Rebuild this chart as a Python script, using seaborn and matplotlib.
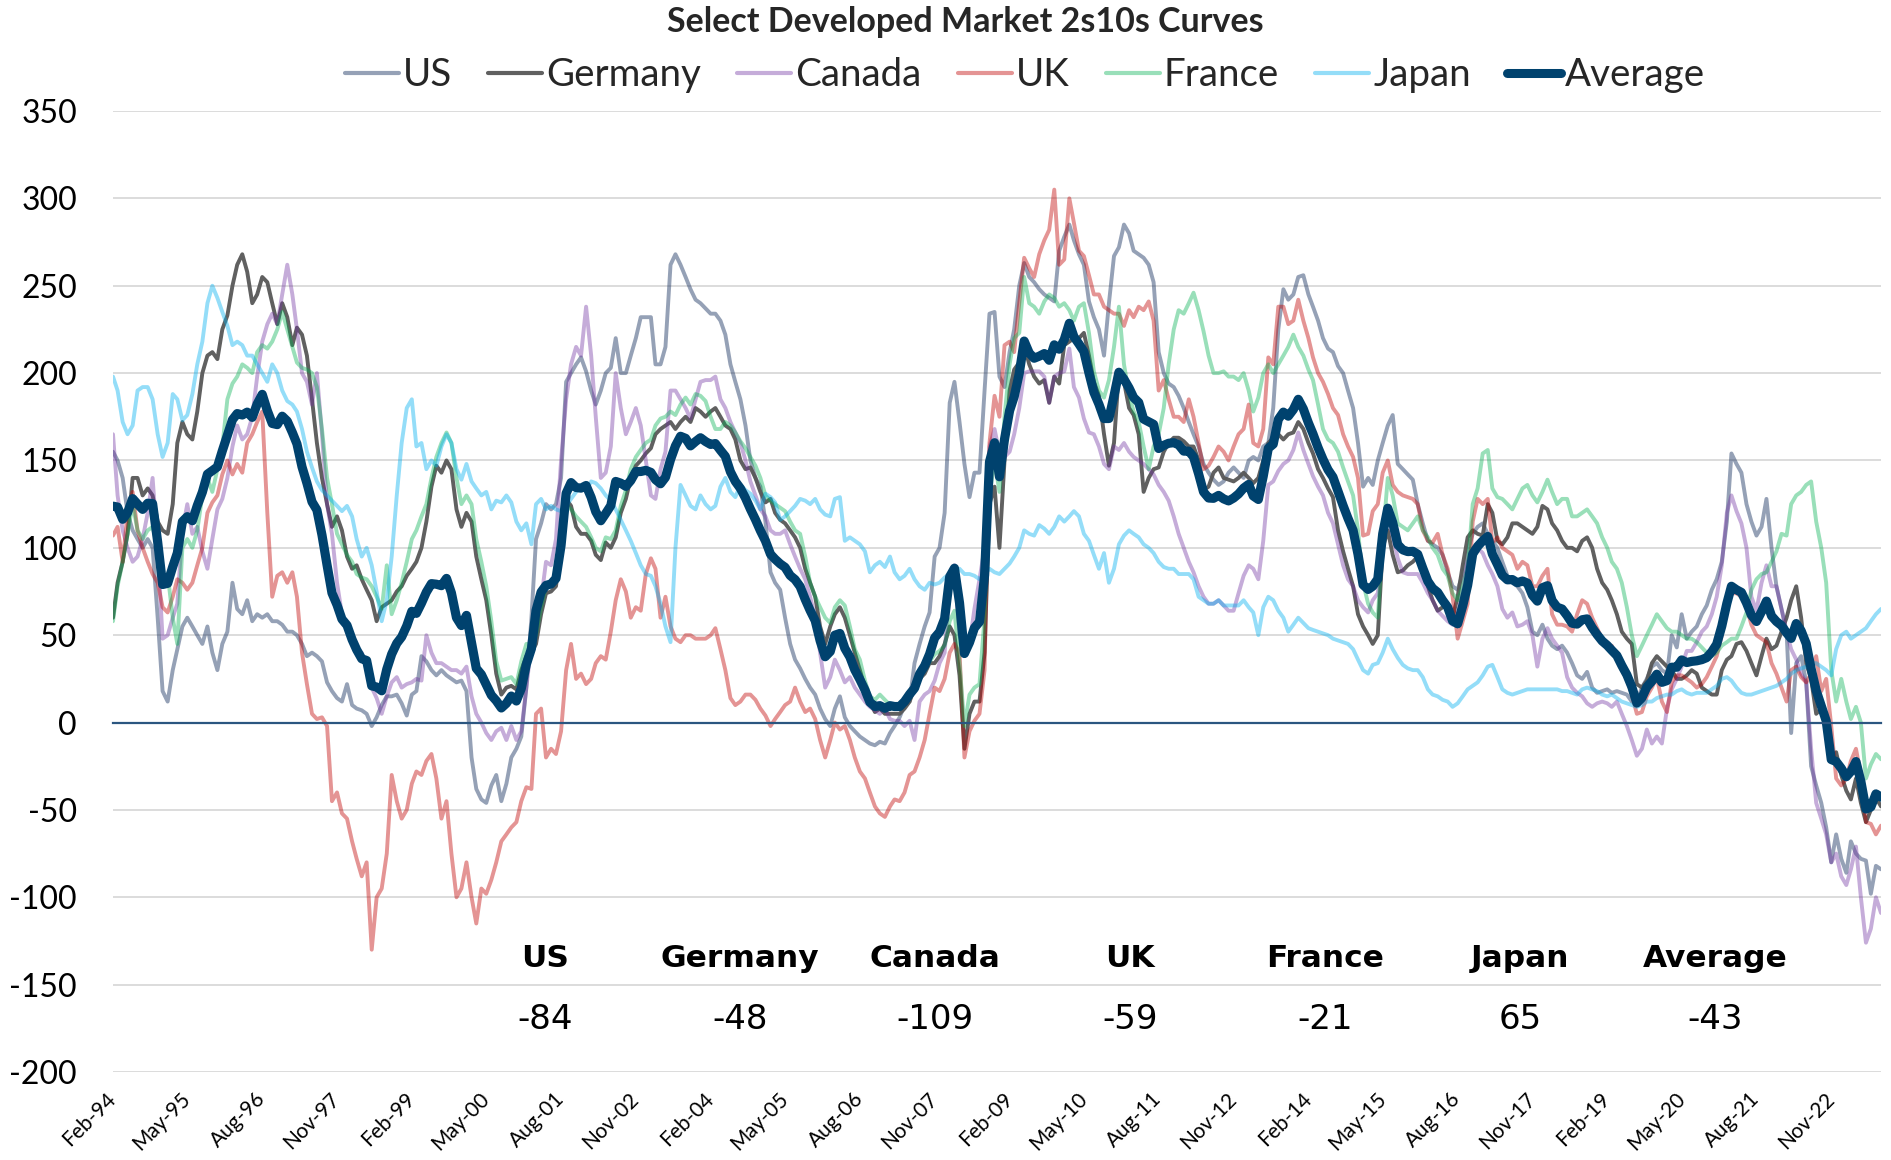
import numpy as np
import pandas as pd
import matplotlib
matplotlib.use("Agg")
import matplotlib.pyplot as plt
import matplotlib.transforms as mtransforms
from matplotlib.lines import Line2D
import seaborn as sns

# Monthly 2s10s spreads (bp), Feb-1994 .. Sep-2023
dates = pd.date_range("1994-02-01", periods=356, freq="MS")

us = [155, 150, 140, 120, 110, 105, 100, 105, 100, 60,
      18, 12, 30, 42, 55, 60, 55, 50, 45, 55,
      40, 30, 45, 52, 80, 65, 62, 70, 58, 62,
      60, 62, 58, 58, 56, 52, 52, 50, 45, 38,
      40, 38, 35, 23, 18, 14, 12, 22, 10, 8,
      7, 5, -2, 3, 10, 15, 15, 16, 11, 4,
      16, 18, 38, 35, 30, 27, 30, 27, 25, 23,
      24, 18, -20, -38, -44, -46, -36, -30, -45, -35,
      -20, -15, -8, 20, 60, 105, 114, 125, 122, 125,
      140, 195, 200, 205, 209, 201, 190, 182, 190, 200,
      203, 220, 200, 200, 210, 220, 232, 232, 232, 205,
      205, 215, 262, 268, 262, 255, 248, 242, 240, 237,
      234, 234, 230, 222, 205, 195, 185, 170, 150, 140,
      135, 115, 86, 80, 76, 60, 45, 36, 31, 25,
      20, 16, 8, 2, -2, 8, 15, 3, -2, -5,
      -8, -10, -12, -13, -11, -12, -6, -2, 3, 10,
      12, 34, 45, 55, 63, 95, 100, 120, 183, 195,
      172, 148, 129, 143, 143, 190, 234, 235, 198, 192,
      212, 225, 250, 263, 255, 252, 248, 245, 243, 241,
      270, 278, 285, 276, 268, 262, 241, 232, 225, 210,
      240, 267, 272, 285, 280, 270, 268, 266, 262, 252,
      212, 200, 194, 192, 187, 180, 172, 165, 158, 148,
      143, 139, 136, 138, 143, 146, 143, 140, 150, 152,
      150, 158, 160, 180, 225, 248, 242, 245, 255, 256,
      245, 238, 230, 220, 214, 212, 204, 200, 190, 180,
      160, 135, 140, 136, 150, 160, 170, 176, 148, 145,
      142, 139, 125, 114, 104, 102, 100, 96, 86, 78,
      76, 85, 98, 108, 112, 114, 108, 104, 100, 92,
      84, 80, 78, 74, 66, 52, 50, 56, 48, 44,
      42, 44, 40, 34, 27, 25, 29, 20, 17, 18,
      19, 17, 18, 17, 16, 12, 12, 20, 25, 32,
      34, 30, 28, 50, 43, 62, 48, 52, 55, 62,
      67, 76, 82, 92, 115, 154, 148, 143, 125, 115,
      107, 112, 128, 100, 78, 65, 52, -6, 34, 38,
      23, -25, -36, -46, -60, -80, -64, -78, -86, -68,
      -75, -78, -79, -98, -82, -84]

germany = [60, 80, 92, 108, 140, 140, 130, 134, 130, 115,
           110, 108, 125, 160, 172, 165, 162, 178, 200, 210,
           212, 208, 225, 233, 250, 262, 268, 258, 240, 245,
           255, 252, 240, 228, 240, 232, 216, 226, 222, 210,
           185, 160, 140, 125, 112, 118, 110, 95, 88, 90,
           82, 76, 70, 58, 66, 68, 70, 75, 78, 84,
           88, 92, 100, 115, 135, 147, 143, 150, 145, 122,
           112, 120, 115, 95, 82, 70, 50, 28, 16, 20,
           21, 19, 30, 38, 40, 45, 62, 74, 75, 78,
           100, 128, 124, 112, 108, 108, 104, 96, 93, 103,
           100, 106, 120, 128, 140, 147, 150, 154, 157, 165,
           168, 170, 172, 168, 172, 175, 172, 180, 178, 175,
           178, 180, 175, 170, 168, 162, 150, 145, 146, 140,
           132, 126, 128, 120, 116, 114, 110, 106, 100, 88,
           80, 72, 55, 45, 55, 62, 66, 60, 50, 40,
           30, 20, 12, 6, 8, 5, 5, 5, 5, 8,
           12, 20, 25, 28, 34, 34, 38, 45, 55, 50,
           27, -15, 5, 12, 12, 40, 125, 135, 100, 150,
           190, 202, 206, 216, 205, 198, 194, 196, 183, 198,
           194, 216, 218, 220, 220, 223, 210, 195, 187, 165,
           147, 160, 201, 195, 180, 176, 165, 132, 140, 145,
           146, 155, 160, 163, 163, 161, 158, 158, 150, 133,
           135, 143, 146, 140, 139, 138, 140, 143, 140, 137,
           140, 150, 160, 163, 165, 162, 165, 166, 172, 168,
           160, 154, 145, 140, 134, 129, 110, 98, 88, 78,
           62, 55, 50, 45, 50, 100, 110, 96, 86, 87,
           90, 92, 95, 90, 78, 70, 64, 66, 68, 60,
           72, 90, 106, 110, 108, 107, 125, 120, 104, 102,
           106, 114, 114, 112, 110, 108, 112, 124, 122, 114,
           110, 104, 100, 100, 98, 104, 106, 100, 88, 80,
           76, 70, 62, 52, 48, 45, 22, 20, 24, 34,
           38, 35, 32, 30, 25, 25, 27, 30, 28, 20,
           18, 16, 16, 30, 36, 38, 45, 46, 41, 34,
           27, 38, 48, 42, 44, 52, 60, 70, 78, 60,
           34, 25, 5, 8, -5, -22, -17, -30, -39, -44,
           -32, -46, -57, -50, -43, -48]

canada = [165, 130, 110, 100, 92, 95, 105, 120, 140, 100,
          48, 50, 60, 68, 110, 125, 108, 112, 98, 88,
          105, 122, 128, 140, 158, 170, 162, 165, 175, 198,
          218, 228, 234, 228, 245, 262, 245, 225, 200, 195,
          182, 200, 165, 125, 108, 80, 62, 52, 45, 40,
          40, 30, 20, 14, 5, 15, 23, 26, 20, 22,
          23, 25, 24, 50, 40, 34, 34, 32, 30, 30,
          28, 32, 15, 5, 0, -6, -10, -5, -3, -10,
          -2, -10, -5, 20, 45, 55, 70, 92, 90, 105,
          150, 185, 205, 215, 210, 238, 210, 175, 140, 143,
          158, 200, 180, 165, 172, 180, 170, 150, 130, 128,
          145, 155, 190, 190, 185, 180, 174, 185, 195, 196,
          196, 198, 185, 180, 172, 166, 160, 150, 138, 130,
          122, 118, 110, 108, 108, 110, 102, 95, 88, 82,
          72, 60, 40, 20, 26, 36, 30, 23, 26, 20,
          16, 12, 9, 7, 5, 8, 2, 1, 1, -2,
          1, -10, 12, 16, 18, 24, 34, 40, 80, 90,
          50, 41, 45, 65, 82, 100, 158, 168, 154, 152,
          155, 165, 180, 200, 201, 201, 201, 198, 183, 198,
          200, 201, 214, 192, 186, 174, 166, 165, 158, 148,
          145, 158, 156, 160, 155, 152, 150, 148, 145, 142,
          136, 132, 127, 118, 108, 100, 92, 86, 78, 72,
          68, 68, 70, 67, 64, 64, 74, 84, 90, 88,
          82, 104, 136, 138, 144, 148, 150, 156, 166, 156,
          148, 141, 135, 130, 120, 114, 102, 90, 82, 78,
          70, 66, 63, 70, 74, 100, 118, 107, 94, 86,
          85, 85, 85, 80, 74, 70, 64, 61, 58, 56,
          62, 75, 92, 100, 100, 97, 90, 85, 78, 65,
          60, 63, 55, 56, 58, 50, 32, 48, 54, 48,
          44, 40, 26, 20, 17, 15, 11, 9, 11, 12,
          11, 9, 12, 5, -2, -10, -19, -15, -4, -12,
          -8, -12, 8, 19, 25, 32, 41, 41, 46, 52,
          55, 62, 72, 90, 120, 130, 121, 114, 100, 72,
          64, 80, 90, 78, 78, 65, 52, 42, 36, 28,
          23, -15, -46, -55, -64, -80, -75, -88, -93, -84,
          -71, -100, -126, -118, -100, -109]

uk = [107, 112, 92, 120, 132, 110, 100, 92, 85, 80,
      66, 63, 72, 82, 80, 76, 80, 90, 100, 120,
      126, 130, 142, 150, 142, 148, 143, 160, 165, 172,
      178, 120, 72, 84, 86, 80, 86, 72, 40, 22,
      5, 2, 3, -2, -45, -40, -52, -55, -68, -78,
      -88, -80, -130, -100, -95, -75, -30, -45, -55, -50,
      -35, -28, -30, -22, -18, -32, -55, -45, -75, -100,
      -95, -80, -100, -115, -95, -98, -90, -80, -68, -64,
      -60, -57, -45, -37, -38, 5, 8, -20, -15, -18,
      -5, 30, 45, 25, 28, 22, 25, 34, 38, 36,
      52, 70, 82, 75, 60, 66, 64, 85, 94, 88,
      60, 72, 55, 48, 46, 50, 50, 48, 48, 48,
      50, 54, 42, 30, 14, 10, 12, 16, 16, 13,
      8, 4, -2, 2, 6, 10, 12, 20, 12, 6,
      8, 2, -10, -20, -10, 0, -4, -2, -10, -20,
      -28, -32, -40, -48, -52, -54, -48, -44, -45, -40,
      -30, -28, -20, -10, 5, 20, 18, 25, 40, 45,
      40, -20, -5, 1, 5, 30, 160, 187, 175, 216,
      218, 212, 240, 266, 260, 255, 268, 276, 282, 305,
      262, 265, 300, 286, 270, 267, 256, 245, 245, 238,
      236, 234, 234, 227, 236, 232, 238, 236, 241, 230,
      190, 196, 185, 175, 175, 172, 185, 175, 160, 145,
      147, 152, 158, 155, 150, 158, 165, 168, 182, 160,
      158, 168, 209, 205, 238, 238, 228, 230, 242, 230,
      220, 209, 200, 195, 188, 180, 176, 165, 158, 152,
      140, 107, 108, 121, 125, 143, 150, 136, 132, 130,
      129, 128, 125, 110, 104, 103, 108, 96, 88, 72,
      48, 58, 68, 115, 128, 125, 128, 103, 106, 100,
      98, 96, 88, 92, 90, 78, 78, 84, 88, 62,
      56, 56, 55, 52, 62, 70, 68, 60, 54, 48,
      44, 44, 36, 30, 25, 16, 5, 6, 15, 20,
      26, 12, 6, 23, 27, 27, 25, 23, 20, 22,
      26, 32, 38, 50, 66, 74, 74, 72, 66, 56,
      50, 48, 46, 34, 28, 20, 12, 30, 32, 26,
      23, 28, 38, 18, 25, -2, -32, -36, -32, -22,
      -15, -30, -57, -58, -64, -59]

france = [58, 78, 92, 108, 125, 110, 105, 110, 112, 100,
          80, 85, 60, 45, 100, 105, 100, 110, 130, 140,
          132, 145, 158, 185, 194, 198, 205, 203, 200, 212,
          216, 214, 218, 225, 235, 225, 215, 206, 203, 202,
          200, 192, 168, 140, 125, 108, 102, 96, 92, 85,
          83, 82, 78, 72, 65, 90, 62, 70, 80, 92,
          105, 110, 118, 125, 140, 152, 160, 166, 160, 140,
          125, 130, 125, 105, 92, 78, 58, 35, 24, 25,
          26, 22, 35, 45, 45, 50, 66, 78, 80, 83,
          102, 125, 122, 118, 115, 112, 106, 100, 98, 106,
          105, 110, 124, 133, 145, 152, 156, 160, 162, 170,
          174, 175, 178, 176, 182, 186, 182, 188, 187, 184,
          175, 168, 168, 172, 170, 166, 161, 157, 152, 147,
          140, 130, 127, 125, 123, 121, 115, 110, 108, 95,
          80, 72, 66, 60, 57, 66, 70, 67, 55, 42,
          36, 24, 15, 13, 16, 13, 10, 9, 9, 12,
          14, 20, 27, 30, 35, 39, 41, 44, 58, 64,
          34, -2, 16, 20, 22, 60, 130, 150, 132, 175,
          205, 220, 223, 255, 240, 238, 234, 241, 245, 243,
          238, 240, 236, 230, 238, 240, 223, 201, 190, 186,
          196, 215, 238, 205, 188, 178, 172, 158, 145, 158,
          165, 180, 205, 225, 236, 234, 240, 246, 236, 224,
          210, 200, 200, 201, 198, 198, 196, 200, 190, 178,
          186, 200, 205, 200, 205, 210, 215, 222, 215, 210,
          202, 196, 182, 168, 162, 160, 155, 146, 138, 130,
          110, 80, 68, 63, 60, 105, 140, 130, 114, 112,
          110, 114, 118, 110, 106, 100, 96, 88, 84, 74,
          70, 78, 88, 125, 134, 154, 156, 134, 129, 128,
          125, 122, 128, 134, 136, 130, 126, 132, 139, 132,
          125, 128, 128, 118, 118, 120, 122, 118, 114, 106,
          100, 92, 88, 80, 66, 50, 38, 44, 50, 56,
          62, 58, 54, 52, 52, 50, 48, 48, 46, 43,
          40, 38, 40, 44, 46, 48, 48, 55, 63, 76,
          82, 85, 86, 92, 98, 108, 107, 125, 130, 132,
          136, 138, 115, 100, 80, 30, 12, 25, 12, 2,
          9, 0, -32, -24, -18, -21]

japan = [198, 190, 172, 165, 170, 190, 192, 192, 185, 165,
         152, 160, 188, 185, 173, 176, 188, 205, 218, 240,
         250, 243, 235, 227, 216, 218, 216, 210, 210, 205,
         200, 195, 205, 200, 190, 184, 182, 178, 168, 155,
         146, 138, 133, 130, 127, 124, 121, 124, 118, 105,
         95, 100, 90, 75, 58, 70, 95, 130, 160, 180,
         185, 158, 160, 145, 150, 147, 158, 165, 160, 145,
         139, 148, 138, 134, 130, 132, 122, 127, 126, 130,
         126, 115, 110, 114, 102, 125, 128, 122, 124, 122,
         121, 124, 128, 132, 135, 133, 138, 137, 134, 130,
         127, 122, 116, 110, 104, 97, 90, 85, 84, 78,
         68, 55, 46, 100, 136, 130, 124, 122, 130, 125,
         122, 124, 135, 140, 132, 129, 136, 133, 131, 127,
         122, 131, 129, 126, 116, 118, 121, 124, 128, 127,
         125, 128, 122, 119, 118, 128, 129, 104, 106, 104,
         102, 98, 86, 90, 92, 89, 95, 86, 82, 84,
         88, 82, 78, 76, 80, 79, 80, 83, 85, 86,
         88, 85, 85, 84, 82, 85, 88, 86, 85, 88,
         91, 95, 100, 110, 108, 107, 113, 111, 108, 112,
         118, 115, 118, 121, 118, 108, 104, 96, 88, 97,
         80, 88, 102, 107, 110, 108, 106, 102, 100, 97,
         92, 89, 88, 88, 85, 85, 85, 82, 72, 70,
         68, 68, 70, 67, 67, 67, 67, 70, 66, 63,
         50, 66, 72, 70, 64, 60, 52, 56, 60, 57,
         54, 53, 52, 51, 50, 48, 47, 46, 45, 42,
         36, 30, 28, 33, 34, 40, 48, 42, 37, 33,
         31, 30, 30, 26, 19, 16, 15, 13, 12, 9,
         11, 15, 19, 21, 23, 27, 32, 33, 26, 19,
         17, 16, 17, 18, 19, 19, 19, 19, 19, 19,
         19, 18, 18, 17, 16, 19, 20, 19, 18, 16,
         15, 16, 14, 12, 11, 10, 9, 10, 12, 12,
         14, 15, 16, 16, 18, 19, 17, 16, 17, 17,
         17, 19, 21, 25, 26, 24, 20, 17, 16, 16,
         17, 18, 19, 20, 21, 23, 25, 28, 30, 31,
         32, 34, 34, 32, 30, 27, 42, 50, 52, 48,
         50, 52, 54, 58, 62, 65]

countries = ["US", "Germany", "Canada", "UK", "France", "Japan"]
series_colors = {
    "US": ("#1F3864", 0.47),
    "Germany": ("#575757", 0.95),
    "Canada": ("#7030A0", 0.40),
    "UK": ("#C00000", 0.42),
    "France": ("#00B050", 0.40),
    "Japan": ("#00B0F0", 0.42),
}
avg_color = "#00426E"

frame = pd.DataFrame({"date": dates, "US": us, "Germany": germany,
                      "Canada": canada, "UK": uk, "France": france,
                      "Japan": japan})
frame["Average"] = frame[countries].mean(axis=1)
long = frame.melt(id_vars="date", var_name="series", value_name="bp")

sns.set_theme(style="white")
plt.rcParams["font.family"] = ["Lato", "DejaVu Sans"]
plt.rcParams["axes.unicode_minus"] = False

W, H = 1891, 1160
fig = plt.figure(figsize=(W / 100, H / 100), dpi=100)
ax = fig.add_axes([113 / W, 1 - 1072 / H, (1881 - 113) / W, (1072 - 111) / H])

for name in countries:
    col, a = series_colors[name]
    sns.lineplot(data=long[long.series == name], x="date", y="bp", ax=ax,
                 color=col, alpha=a, linewidth=2.8, legend=False)
sns.lineplot(data=long[long.series == "Average"], x="date", y="bp", ax=ax,
             color=avg_color, linewidth=6.6, legend=False)

ax.set_xlim(dates[0], dates[-1])
ax.set_ylim(-200, 350)
ax.set_yticks(np.arange(-200, 351, 50))
ax.set_xlabel("")
ax.set_ylabel("")
ax.yaxis.grid(True, color="#D9D9D9", linewidth=1.3)
ax.xaxis.grid(False)
ax.set_axisbelow(True)
for s in ["top", "right", "left"]:
    ax.spines[s].set_visible(False)

# Horizontal axis sits on the zero line with small outward ticks
tick_dates = dates[::15]
ax.spines["bottom"].set_position(("data", 0))
ax.spines["bottom"].set_color("#2B5680")
ax.spines["bottom"].set_linewidth(1.6)
ax.spines["bottom"].set_zorder(5)
ax.set_xticks(tick_dates)
ax.tick_params(axis="x", direction="out", length=5, width=1.5,
               color="#2B5680", labelbottom=False)
ax.tick_params(axis="y", length=0, pad=26, labelsize=23, labelcolor="black")

# Date labels along the bottom of the plot area
sec = ax.secondary_xaxis(0)
sec.set_xticks(tick_dates, labels=[d.strftime("%b-%y") for d in tick_dates],
               rotation=45, ha="right", va="center", rotation_mode="anchor")
sec.tick_params(length=0, pad=17, labelsize=15, labelcolor="black")
sec.spines["bottom"].set_visible(False)

# Latest readings
blend = mtransforms.blended_transform_factory(ax.transAxes, ax.transData)
names = countries + ["Average"]
for i, name in enumerate(names):
    x = 0.2443 + i * 0.1103
    last = frame[name].iloc[-1]
    ax.text(x, -135, name, transform=blend, ha="center", va="center",
            family="DejaVu Sans", fontweight="bold", fontsize=22.5, color="black")
    ax.text(x, -170, f"{int(round(last))}", transform=blend, ha="center",
            va="center", family="DejaVu Sans", fontsize=24.5, color="black")

# Legend and title
handles = []
for name in countries:
    col, a = series_colors[name]
    handles.append(Line2D([0], [0], color=col, alpha=a, linewidth=3))
handles.append(Line2D([0], [0], color=avg_color, linewidth=6.5))
fig.legend(handles, names, loc="center", bbox_to_anchor=(1025 / W, 1 - 75 / H),
           ncol=7, frameon=False, fontsize=27.7, handlelength=1.4,
           handletextpad=0.1, columnspacing=0.95)

fig.text(965 / W, 1 - 22 / H, "Select Developed Market 2s10s Curves",
         ha="center", va="center", fontsize=24.5, fontweight="bold")

fig.savefig("out.png", dpi=100)
